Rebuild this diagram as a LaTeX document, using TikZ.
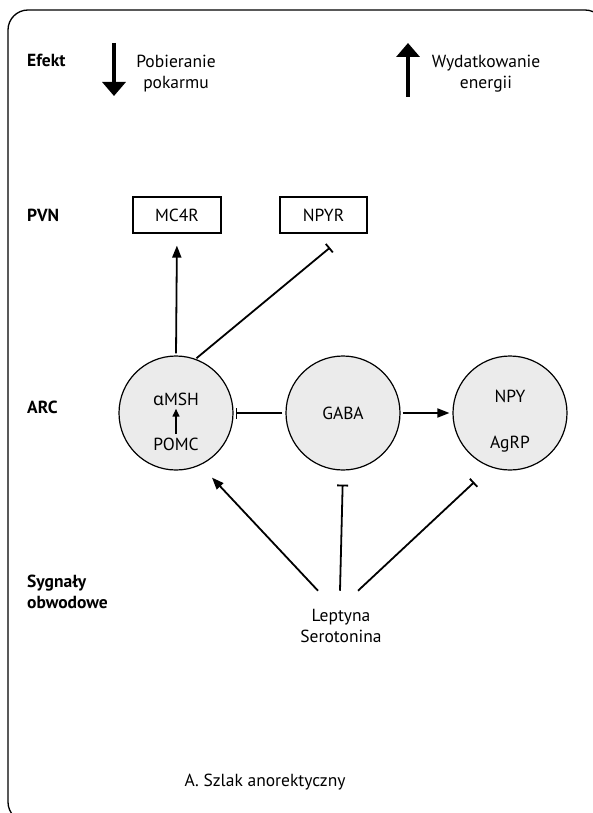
\documentclass[tikz,border=0pt]{standalone}
\usepackage{fontspec}
\setmainfont{PT Sans}
\newfontfamily\grk{Noto Sans}
\usetikzlibrary{arrows.meta,calc}

\newcommand{\txtsize}{\fontsize{17.5}{21}\selectfont}

\tikzset{
  lbl/.style={font=\txtsize\bfseries, anchor=base west, align=left, inner sep=0pt},
  txt/.style={font=\txtsize, align=center},
  rcpt/.style={draw, line width=1.2pt, minimum width=88pt, minimum height=36pt, font=\txtsize},
  cell/.style={circle, draw, line width=1.2pt, fill=black!8, minimum size=114pt, inner sep=0pt, font=\txtsize},
  act/.style={line width=1.8pt, -{Triangle[length=12pt,width=9pt]}},
  inh/.style={line width=1.8pt, -{Bar[width=11pt]}},
  sact/.style={line width=1.5pt, -{Triangle[length=8pt,width=7pt]}},
  big/.style={line width=4pt, -{Triangle[length=14pt,width=23pt]}},
  frame/.style={line width=1.3pt, rounded corners=20pt}
}

\begin{document}
\begin{tikzpicture}[x=1pt,y=-1pt]
  \useasboundingbox (0,0) rectangle (593,813);
  \clip (0,0) rectangle (593,813);
  \draw[frame] (8,10) rectangle (605,822);

  % Efekt
  \node[lbl] (efekt) at (27,67) {Efekt};
  \coordinate (dnTop) at (114,43);
  \coordinate (dnTip) at (114,96);
  \draw[big] (dnTop) -- (dnTip);
  \node[txt] (pobier) at (176,74) {Pobieranie\\pokarmu};
  \coordinate (upBot) at (408,97);
  \coordinate (upTip) at (408,43);
  \draw[big] (upBot) -- (upTip);
  \node[txt] (wydatk) at (486,74) {Wydatkowanie\\energii};

  % PVN
  \node[lbl] (pvn) at (27,221) {PVN};
  \node[rcpt] (mc4r) at (177,215) {MC4R};
  \node[rcpt, minimum width=87pt] (npyr) at (323.5,215) {NPYR};

  % ARC
  \node[lbl] (arc) at (27,413) {ARC};
  \node[cell] (pomc) at (176,413) {};
  \node[cell] (gaba) at (343,413) {GABA};
  \node[cell] (npy) at (510,413) {};
  \node[txt, anchor=base] (msh) at (176,405) {{\grk α}MSH};
  \node[txt, anchor=base] (pomctxt) at (176,450) {POMC};
  \node[txt, anchor=base] (npytxt) at (510,402) {NPY};
  \node[txt, anchor=base] (agrp) at (510,448) {AgRP};
  \draw[sact] (pomctxt.north) -- (msh.south);

  \draw[act, shorten <=2pt, shorten >=12pt] (pomc.north) -- (mc4r.south);
  \draw[inh, shorten <=1pt] (pomc.70) -- ([xshift=6.5pt,yshift=-14pt]npyr.south);
  \draw[inh, shorten <=3pt, shorten >=2pt] (gaba.west) -- (pomc.east);
  \draw[act, shorten <=2pt, shorten >=3pt] (gaba.east) -- (npy.west);

  % Sygnaly obwodowe
  \node[lbl, anchor=west] (sygn) at (27,592) {Sygnały\\obwodowe};
  \node[txt] (lep) at (341,626) {Leptyna\\Serotonina};
  \coordinate (lepTop) at ([yshift=15pt]lep.north);
  \draw[act, shorten >=17pt] ([xshift=-23pt]lepTop) -- (pomc.-65);
  \draw[inh, shorten >=14pt] ([xshift=-1pt]lepTop) -- (gaba.south);
  \draw[inh, shorten >=22pt] ([xshift=17pt]lepTop) -- (npy.-110);

  \node[txt] (capt) at (265,782) {A. Szlak anorektyczny};
\end{tikzpicture}
\end{document}
